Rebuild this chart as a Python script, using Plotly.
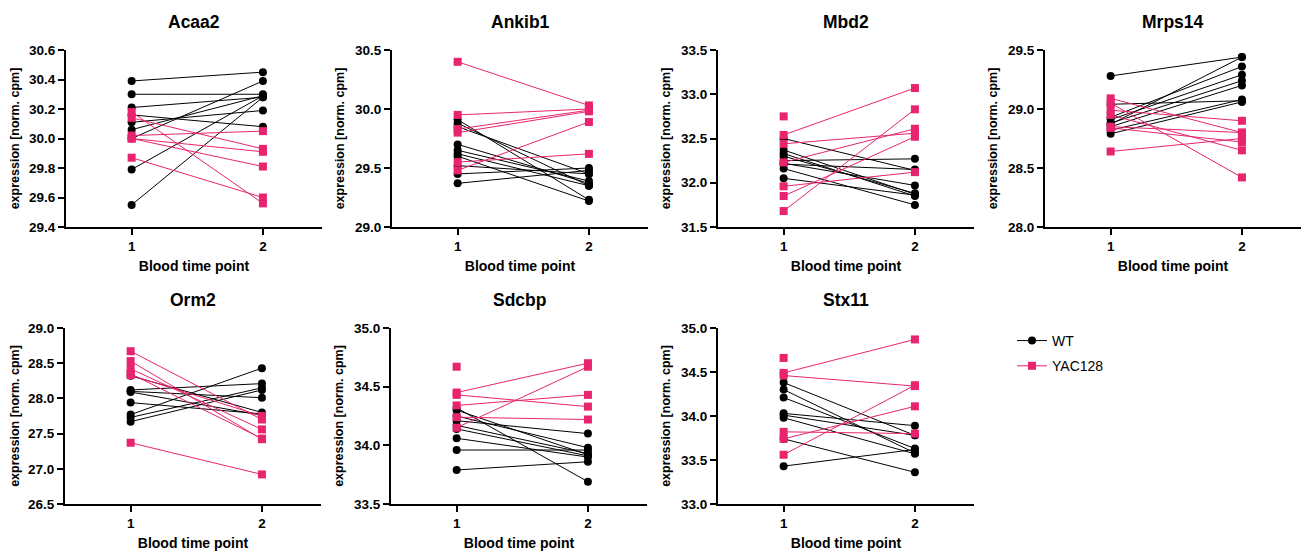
import plotly.graph_objects as go

genes = ["Acaa2", "Ankib1", "Mbd2", "Mrps14", "Orm2", "Sdcbp", "Stx11"]

wt_t1 = {
    "Acaa2": [30.39, 30.30, 30.21, 30.16, 30.11, 30.06, 30.00, 29.79, 29.55],
    "Ankib1": [29.91, 29.88, 29.85, 29.70, 29.65, 29.62, 29.60, 29.52, 29.45, 29.37],
    "Mbd2": [32.50, 32.37, 32.33, 32.30, 32.25, 32.21, 32.22, 32.16, 32.05],
    "Mrps14": [29.28, 29.04, 28.93, 28.91, 28.88, 28.87, 28.85, 28.82, 28.79],
    "Orm2": [28.32, 28.12, 28.09, 28.10, 27.94, 27.77, 27.73, 27.67],
    "Sdcbp": [34.32, 34.30, 34.25, 34.21, 34.17, 34.14, 34.06, 33.96, 33.79],
    "Stx11": [34.38, 34.30, 34.21, 34.03, 34.01, 33.98, 33.74, 33.43],
}
wt_t2 = {
    "Acaa2": [30.45, 30.30, 30.28, 30.08, 30.19, 30.29, 30.39, 30.29, 30.28],
    "Ankib1": [29.23, 29.35, 29.45, 29.37, 29.39, 29.35, 29.22, 29.45, 29.50, 29.48],
    "Mbd2": [32.14, 31.87, 31.85, 31.88, 32.27, 32.15, 31.97, 31.75, 31.86],
    "Mrps14": [29.44, 29.07, 29.36, 29.29, 29.24, 29.44, 29.20, 29.08, 29.06],
    "Orm2": [27.80, 28.21, 27.76, 28.01, 27.78, 28.43, 28.15, 28.12],
    "Sdcbp": [33.69, 33.92, 33.98, 34.10, 33.93, 33.91, 33.90, 33.96, 33.86],
    "Stx11": [33.78, 33.58, 33.63, 33.89, 33.78, 33.57, 33.36, 33.62],
}
yac_t1 = {
    "Acaa2": [30.18, 30.14, 30.02, 30.00, 30.00, 29.87],
    "Ankib1": [30.40, 29.95, 29.83, 29.80, 29.48, 29.55],
    "Mbd2": [32.75, 32.54, 32.44, 32.23, 31.96, 31.85, 31.68],
    "Mrps14": [29.09, 29.05, 28.99, 28.95, 28.85, 28.84, 28.64],
    "Orm2": [28.67, 28.53, 28.42, 28.35, 28.33, 27.37],
    "Sdcbp": [34.67, 34.45, 34.43, 34.34, 34.24, 34.15],
    "Stx11": [34.66, 34.49, 34.46, 33.82, 33.74, 33.56],
}
yac_t2 = {
    "Acaa2": [29.56, 29.93, 30.05, 29.91, 29.81, 29.60],
    "Ankib1": [30.03, 30.00, 29.99, 29.98, 29.89, 29.62],
    "Mbd2": [None, 33.07, 32.56, 32.61, 32.12, 32.52, 32.83],
    "Mrps14": [28.80, 28.42, 28.90, 28.65, 28.80, 28.72, 28.75],
    "Orm2": [27.70, 27.42, 27.56, 27.43, 27.75, 26.92],
    "Sdcbp": [None, 34.70, 34.33, 34.43, 34.22, 34.67],
    "Stx11": [None, 34.87, 34.34, 33.80, 34.11, 34.35],
}
y_ranges = {
    "Acaa2": (29.4, 30.6, 0.2),
    "Ankib1": (29.0, 30.5, 0.5),
    "Mbd2": (31.5, 33.5, 0.5),
    "Mrps14": (28.0, 29.5, 0.5),
    "Orm2": (26.5, 29.0, 0.5),
    "Sdcbp": (33.5, 35.0, 0.5),
    "Stx11": (33.0, 35.0, 0.5),
}
time_points = [1, 2]
x_tick_labels = ["1", "2"]

WT_COLOR = "#000000"
YAC_COLOR = "#E8246F"
FONT = "Liberation Sans, Arial, sans-serif"
W, H = 1301, 545
OFF = 8  # page body margin

col_left = [[66, 392, 718, 1045], [65, 391, 718]]
row_tb = [(50, 227), (328, 504)]
PW = 256


def pairs(a, b):
    xs, ys = [], []
    for v1, v2 in zip(a, b):
        xs += [time_points[0], time_points[1], None]
        ys += [v1, v2, None]
    return xs, ys


def px(x):
    return (x - OFF) / W


def py(y):
    return 1 - (y - OFF) / H


fig = go.Figure()
layout = {}
annotations = []
for i, g in enumerate(genes):
    r, c = divmod(i, 4)
    n = i + 1
    xa = "x" if n == 1 else f"x{n}"
    ya = "y" if n == 1 else f"y{n}"
    xk = "xaxis" if n == 1 else f"xaxis{n}"
    yk = "yaxis" if n == 1 else f"yaxis{n}"
    x0 = col_left[r][c]
    top, bot = row_tb[r]

    xs, ys = pairs(wt_t1[g], wt_t2[g])
    fig.add_trace(go.Scatter(x=xs, y=ys, mode="lines+markers", name="WT",
                             legendgroup="WT", showlegend=(i == 0),
                             line=dict(color=WT_COLOR, width=1),
                             marker=dict(color=WT_COLOR, size=8, symbol="circle"),
                             xaxis=xa, yaxis=ya, connectgaps=False))
    xs, ys = pairs(yac_t1[g], yac_t2[g])
    fig.add_trace(go.Scatter(x=xs, y=ys, mode="lines+markers", name="YAC128",
                             legendgroup="YAC128", showlegend=(i == 0),
                             line=dict(color=YAC_COLOR, width=1),
                             marker=dict(color=YAC_COLOR, size=8, symbol="square"),
                             xaxis=xa, yaxis=ya, connectgaps=False))

    lo, hi, step = y_ranges[g]
    nt = int(round((hi - lo) / step))
    tv = [round(lo + k * step, 2) for k in range(nt + 1)]
    layout[xk] = dict(domain=[px(x0), px(x0 + PW)], anchor=ya, automargin=False,
                      range=[0.5, 2.45], tickvals=time_points, ticktext=x_tick_labels,
                      showline=True, linecolor="black", linewidth=2,
                      ticks="outside", ticklen=6, tickwidth=2, tickcolor="black",
                      showgrid=False, zeroline=False,
                      tickfont=dict(family=FONT, size=13.5, color="black", weight="bold"),
                      title=dict(text="Blood time point", standoff=8,
                                 font=dict(family=FONT, size=14, color="black", weight="bold")))
    layout[yk] = dict(domain=[py(bot), py(top)], anchor=xa, automargin=False,
                      range=[lo, hi], tickvals=tv, ticktext=[f"{v:.1f}" for v in tv],
                      showline=True, linecolor="black", linewidth=2,
                      ticks="outside", ticklen=6, tickwidth=2, tickcolor="black",
                      showgrid=False, zeroline=False,
                      tickfont=dict(family=FONT, size=13.5, color="black", weight="bold"),
                      title=dict(text="expression [norm. cpm]", standoff=8,
                                 font=dict(family=FONT, size=12.5, color="black", weight="bold")))
    annotations.append(dict(text=g, x=px(x0 + PW / 2), y=py(top - 28),
                            xref="paper", yref="paper", showarrow=False,
                            xanchor="center", yanchor="middle",
                            font=dict(family=FONT, size=17.5, color="black", weight="bold")))

fig.update_layout(**layout)
fig.update_layout(
    width=W, height=H,
    margin=dict(l=0, r=0, t=0, b=0, autoexpand=False),
    paper_bgcolor="white", plot_bgcolor="white",
    annotations=annotations,
    showlegend=True,
    legend=dict(x=px(1012), y=py(325), xanchor="left", yanchor="top",
                font=dict(family=FONT, size=14, color="black"),
                tracegroupgap=4, bgcolor="rgba(0,0,0,0)"),
)
fig.write_html("out.html")
